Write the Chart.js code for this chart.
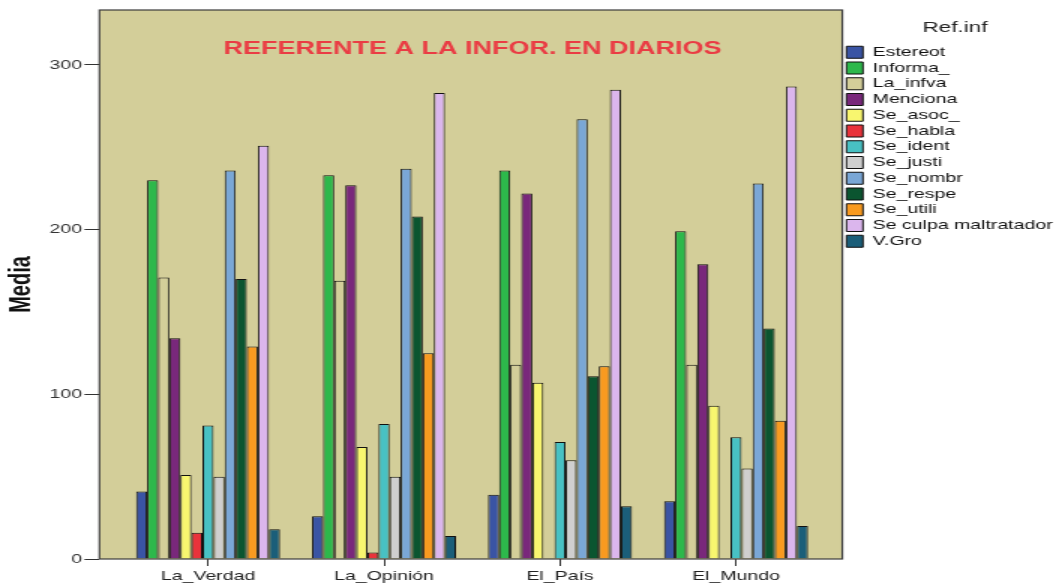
<!DOCTYPE html>
<html>
<head>
<meta charset="utf-8">
<script src="https://cdn.jsdelivr.net/npm/chart.js@4.4.0/dist/chart.umd.min.js"></script>
<style>
html, body { margin: 0; padding: 0; background: #fff; }
#chart { display: block; }
</style>
</head>
<body>
<canvas id="chart" width="704" height="586" style="width:1056px;height:586px"></canvas>
<script>
var categories = ['La_Verdad', 'La_Opinión', 'El_País', 'El_Mundo'];

var estereot = [41, 26, 39, 35];
var informa = [230, 233, 236, 199];
var laInfva = [171, 169, 118, 118];
var menciona = [134, 227, 222, 179];
var seAsoc = [51, 68, 107, 93];
var seHabla = [16, 4, null, null];
var seIdent = [81, 82, 71, 74];
var seJusti = [50, 50, 60, 55];
var seNombr = [236, 237, 267, 228];
var seRespe = [170, 208, 111, 140];
var seUtili = [129, 125, 117, 84];
var seCulpa = [251, 283, 285, 287];
var vGro = [18, 14, 32, 20];

var seriesNames = ['Estereot', 'Informa_', 'La_infva', 'Menciona', 'Se_asoc_', 'Se_habla', 'Se_ident',
    'Se_justi', 'Se_nombr', 'Se_respe', 'Se_utili', 'Se culpa maltratador', 'V.Gro'];
var seriesValues = [estereot, informa, laInfva, menciona, seAsoc, seHabla, seIdent,
    seJusti, seNombr, seRespe, seUtili, seCulpa, vGro];
var seriesColors = ['#3a54a4', '#2db84b', '#d3ce99', '#79287b', '#f8f66f', '#e9333b', '#48c1c3',
    '#cfcfcf', '#7aa7d6', '#0b5530', '#f89a20', '#dbb6ed', '#1b5e79'];

var yMax = 333.4;
var yStep = 100;
var chartTitle = 'REFERENTE A LA INFOR. EN DIARIOS';
var FONT = "'Liberation Sans', Arial, sans-serif";

// tan plot background, dark frame and the red title inside the plot
var plotFrame = {
    id: 'plotFrame',
    beforeDatasetsDraw: function(chart) {
        var a = chart.chartArea, ctx = chart.ctx;
        ctx.save();
        ctx.fillStyle = '#d3ce99';
        ctx.fillRect(a.left, a.top, a.right - a.left, a.bottom - a.top);
        ctx.restore();
    },
    afterDatasetsDraw: function(chart) {
        var a = chart.chartArea, ctx = chart.ctx;
        ctx.save();
        ctx.strokeStyle = '#3c3c3c';
        ctx.lineWidth = 1.2;
        ctx.strokeRect(a.left, a.top, a.right - a.left, a.bottom - a.top);
        ctx.fillStyle = '#ea3c44';
        ctx.font = 'bold 18px ' + FONT;
        ctx.textAlign = 'center';
        ctx.textBaseline = 'middle';
        ctx.fillText(chartTitle, (a.left + a.right) / 2 + 1, 49);
        ctx.restore();
    }
};

new Chart(document.getElementById('chart'), {
    type: 'bar',
    data: {
        datasets: seriesNames.map(function(name, k) {
            return {
                label: name,
                data: seriesValues[k].map(function(v, i) { return {x: i, y: v}; }),
                backgroundColor: seriesColors[k],
                borderColor: '#111',
                borderWidth: 1,
                categoryPercentage: 0.818,
                barPercentage: 1
            };
        })
    },
    options: {
        responsive: false,
        devicePixelRatio: 1,
        animation: false,
        events: [],
        layout: {
            padding: {top: 10, right: -7.75, bottom: 0, left: 0}
        },
        scales: {
            x: {
                type: 'linear',
                min: -0.617,
                max: 3.604,
                offset: false,
                ticks: {
                    stepSize: 1,
                    includeBounds: false,
                    autoSkip: false,
                    maxRotation: 0,
                    padding: 3,
                    color: '#222',
                    font: {size: 13, family: FONT},
                    callback: function(v) { return categories[v] || ''; }
                },
                grid: {offset: false, drawOnChartArea: false, tickLength: 7, tickColor: '#333'},
                border: {display: false},
                afterFit: function(s) { s.height = 27; }
            },
            y: {
                min: 0,
                max: yMax,
                ticks: {
                    stepSize: yStep,
                    includeBounds: false,
                    padding: 1.5,
                    color: '#333',
                    font: {size: 13, family: FONT}
                },
                grid: {drawOnChartArea: false, tickLength: 10, tickColor: '#333'},
                border: {display: false},
                title: {
                    display: true,
                    text: 'Media',
                    color: '#111',
                    font: {size: 20, weight: 'bold', family: FONT},
                    padding: {top: 2, bottom: 0}
                },
                afterFit: function(s) { s.width = 66.3; }
            }
        },
        plugins: {
            legend: {
                position: 'right',
                align: 'start',
                title: {
                    display: true,
                    text: 'Ref.inf',
                    color: '#222',
                    font: {size: 15, family: FONT},
                    padding: {top: 10.5, bottom: 4.5}
                },
                labels: {
                    boxWidth: 11,
                    boxHeight: 12,
                    padding: 2.75,
                    color: '#111',
                    font: {size: 13, family: FONT}
                }
            },
            tooltip: {enabled: false}
        }
    },
    plugins: [plotFrame]
});
</script>
</body>
</html>
